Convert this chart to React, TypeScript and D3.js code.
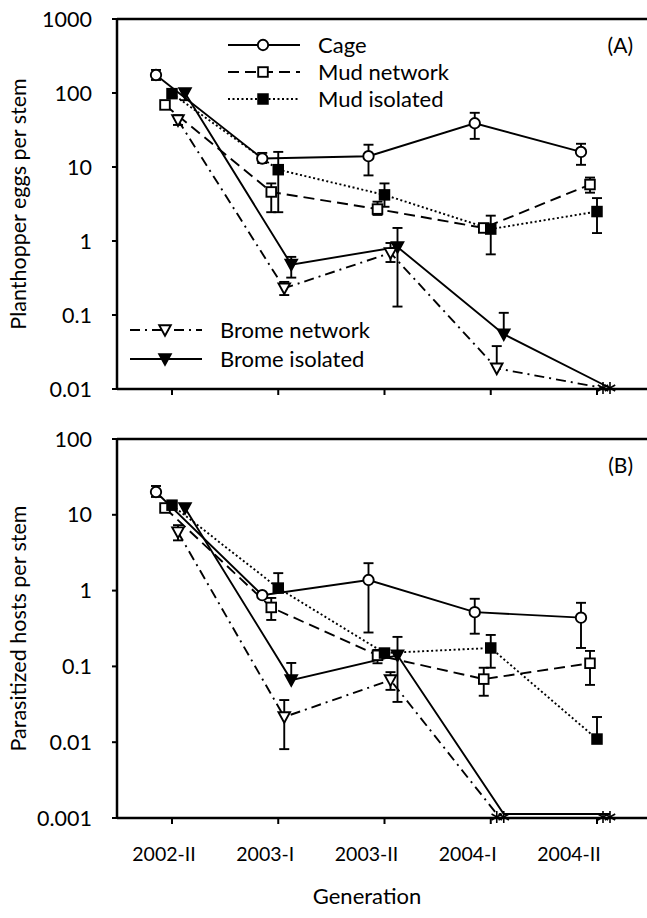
import React from "react";
import * as d3 from "d3";

const generations = ["2002-II", "2003-I", "2003-II", "2004-I", "2004-II"];

// Panel A: planthopper eggs per stem (0 = none found, drawn as asterisk)
const cageEggs = [175, 13, 14, 39, 16];
const cageEggsLo = [150, 11.3, 7.7, 24, 10.7];
const cageEggsHi = [205, 15.5, 20, 54, 20.6];
const mudNetEggs = [69, 4.6, 2.7, 1.5, 5.8];
const mudNetEggsLo = [null, 2.45, 2.25, null, 4.5];
const mudNetEggsHi = [null, 6.0, 3.4, null, 7.2];
const mudIsoEggs = [98, 9.2, 4.2, 1.45, 2.5];
const mudIsoEggsLo = [null, 2.45, 2.9, 0.66, 1.28];
const mudIsoEggsHi = [null, 16, 6.0, 2.2, 3.8];
const bromeNetEggs = [43, 0.23, 0.69, 0.019, 0];
const bromeNetEggsLo = [37, 0.186, 0.52, null, null];
const bromeNetEggsHi = [50, 0.28, 0.94, 0.038, null];
const bromeIsoEggs = [100, 0.48, 0.83, 0.055, 0];
const bromeIsoEggsLo = [80, 0.32, 0.13, null, null];
const bromeIsoEggsHi = [110, 0.61, 1.5, 0.107, null];

// Panel B: parasitized hosts per stem
const cageHosts = [20, 0.87, 1.38, 0.52, 0.44];
const cageHostsLo = [17.2, null, 0.28, 0.27, 0.175];
const cageHostsHi = [24, null, 2.3, 0.78, 0.69];
const mudNetHosts = [12.3, 0.6, 0.14, 0.068, 0.11];
const mudNetHostsLo = [null, 0.41, 0.11, 0.041, 0.057];
const mudNetHostsHi = [null, 0.8, 0.165, 0.096, 0.16];
const mudIsoHosts = [13.4, 1.08, 0.15, 0.175, 0.011];
const mudIsoHostsLo = [null, null, null, 0.096, null];
const mudIsoHostsHi = [null, 1.7, null, 0.26, 0.0215];
const bromeNetHosts = [5.9, 0.0215, 0.066, 0, 0];
const bromeNetHostsLo = [4.6, 0.0081, 0.049, null, null];
const bromeNetHostsHi = [7.3, 0.036, 0.084, null, null];
const bromeIsoHosts = [12.3, 0.066, 0.14, 0, 0];
const bromeIsoHostsLo = [null, null, 0.034, null, null];
const bromeIsoHostsHi = [null, 0.111, 0.245, null, null];

const seriesNames = ["Cage", "Mud network", "Mud isolated", "Brome network", "Brome isolated"];
const eggTicks = [0.01, 0.1, 1, 10, 100, 1000];
const hostTicks = [0.001, 0.01, 0.1, 1, 10, 100];

const styles: Record<string, { dash: string; marker: string; dx: number }> = {
  Cage: { dash: "none", marker: "circle", dx: -16 },
  "Mud network": { dash: "11,6", marker: "square", dx: -7 },
  "Mud isolated": { dash: "2,2.5", marker: "filledSquare", dx: 0 },
  "Brome network": { dash: "10,5,2,5", marker: "triangle", dx: 6 },
  "Brome isolated": { dash: "none", marker: "filledTriangle", dx: 13 },
};

const FONT = "Lato, 'Open Sans', sans-serif";
const left = 117;
const right = 647;

const x = d3.scalePoint<string>().domain(generations).range([172, 597]);
const xLabel = d3.scalePoint<string>().domain(generations).range([164, 569]);

function Marker({ type, cx, cy }: { type: string; cx: number; cy: number }) {
  const s = 4.8;
  if (type === "circle")
    return <circle cx={cx} cy={cy} r={5.2} fill="#fff" stroke="#000" strokeWidth={1.9} />;
  if (type === "square" || type === "filledSquare")
    return (
      <rect x={cx - s} y={cy - s} width={2 * s} height={2 * s}
        fill={type === "square" ? "#fff" : "#000"} stroke="#000" strokeWidth={1.9} />
    );
  if (type === "triangle" || type === "filledTriangle")
    return (
      <path d={`M${cx - 5.8},${cy - 4.8}L${cx + 5.8},${cy - 4.8}L${cx},${cy + 5.8}Z`}
        fill={type === "triangle" ? "#fff" : "#000"} stroke="#000" strokeWidth={1.9} />
    );
  // asterisk for zero counts
  const r = 6;
  return (
    <g stroke="#000" strokeWidth={1.6}>
      {[90, 30, -30].map((a) => {
        const rad = (a * Math.PI) / 180;
        return <line key={a} x1={cx - r * Math.cos(rad)} y1={cy - r * Math.sin(rad)}
          x2={cx + r * Math.cos(rad)} y2={cy + r * Math.sin(rad)} />;
      })}
    </g>
  );
}

type Series = { name: string; values: number[]; lo: (number | null)[]; hi: (number | null)[] };

function Panel({ top, bottom, domain, ticks, series, label, title, zeroLift }: {
  top: number; bottom: number; domain: [number, number]; ticks: number[];
  series: Series[]; label: string; title: string; zeroLift: number;
}) {
  const y = d3.scaleLog().domain(domain).range([bottom, top]);
  const yv = (v: number) => (v === 0 ? y(domain[0]) - zeroLift : y(v));
  const line = d3.line<[number, number]>().x((d) => d[0]).y((d) => d[1]);

  return (
    <g>
      {series.map((s) => {
        const st = styles[s.name];
        const pts = s.values.map((v, i) => [x(generations[i])! + st.dx, yv(v)] as [number, number]);
        return (
          <path key={s.name} d={line(pts)!} fill="none" stroke="#000" strokeWidth={1.9}
            strokeDasharray={st.dash} />
        );
      })}
      {series.map((s) => {
        const st = styles[s.name];
        return s.values.map((v, i) => {
          const cx = x(generations[i])! + st.dx;
          const out = [];
          if (s.hi[i] != null) {
            out.push(<line key={"h" + i} x1={cx} x2={cx} y1={yv(v)} y2={y(s.hi[i]!)} stroke="#000" strokeWidth={1.9} />);
            out.push(<line key={"hc" + i} x1={cx - 5} x2={cx + 5} y1={y(s.hi[i]!)} y2={y(s.hi[i]!)} stroke="#000" strokeWidth={1.9} />);
          }
          if (s.lo[i] != null) {
            out.push(<line key={"l" + i} x1={cx} x2={cx} y1={yv(v)} y2={y(s.lo[i]!)} stroke="#000" strokeWidth={1.9} />);
            out.push(<line key={"lc" + i} x1={cx - 5} x2={cx + 5} y1={y(s.lo[i]!)} y2={y(s.lo[i]!)} stroke="#000" strokeWidth={1.9} />);
          }
          return <g key={s.name + i}>{out}</g>;
        });
      })}
      {series.map((s) => {
        const st = styles[s.name];
        return s.values.map((v, i) => (
          <Marker key={s.name + "m" + i} type={v === 0 ? "asterisk" : st.marker}
            cx={x(generations[i])! + st.dx} cy={v === 0 ? y(domain[0]) - 1 : yv(v)} />
        ));
      })}
      <line x1={left} x2={left} y1={top - 1} y2={bottom + 1} stroke="#000" strokeWidth={2.5} />
      <line x1={left} x2={right} y1={top} y2={top} stroke="#000" strokeWidth={2.5} />
      <line x1={left} x2={right} y1={bottom} y2={bottom} stroke="#000" strokeWidth={2.5} />
      {ticks.map((t) => (
        <g key={t}>
          <line x1={left - 5} x2={left} y1={y(t)} y2={y(t)} stroke="#000" strokeWidth={2} />
          <text x={92} y={y(t)} dy="0.35em" textAnchor="end" fontSize={21.5} fontFamily={FONT}>
            {String(t)}
          </text>
        </g>
      ))}
      {generations.map((g) => (
        <line key={g} x1={x(g)} x2={x(g)} y1={bottom} y2={bottom + 6} stroke="#000" strokeWidth={2} />
      ))}
      <text x={633} y={top + 34} textAnchor="end" fontSize={21} fontFamily={FONT}>{label}</text>
      <text transform={`translate(26,${(top + bottom) / 2}) rotate(-90)`} textAnchor="middle"
        fontSize={21.5} fontFamily={FONT}>{title}</text>
    </g>
  );
}

function LegendRow({ name, x0, yy }: { name: string; x0: number; yy: number }) {
  const st = styles[name];
  return (
    <g>
      <line x1={x0} x2={x0 + 72} y1={yy} y2={yy} stroke="#000" strokeWidth={1.9} strokeDasharray={st.dash} />
      <Marker type={st.marker} cx={x0 + 35} cy={yy} />
      <text x={x0 + 90} y={yy} dy="0.35em" fontSize={22} fontFamily={FONT}>{name}</text>
    </g>
  );
}

export default function App() {
  const eggSeries: Series[] = [
    { name: seriesNames[0], values: cageEggs, lo: cageEggsLo, hi: cageEggsHi },
    { name: seriesNames[1], values: mudNetEggs, lo: mudNetEggsLo, hi: mudNetEggsHi },
    { name: seriesNames[2], values: mudIsoEggs, lo: mudIsoEggsLo, hi: mudIsoEggsHi },
    { name: seriesNames[3], values: bromeNetEggs, lo: bromeNetEggsLo, hi: bromeNetEggsHi },
    { name: seriesNames[4], values: bromeIsoEggs, lo: bromeIsoEggsLo, hi: bromeIsoEggsHi },
  ];
  const hostSeries: Series[] = [
    { name: seriesNames[0], values: cageHosts, lo: cageHostsLo, hi: cageHostsHi },
    { name: seriesNames[1], values: mudNetHosts, lo: mudNetHostsLo, hi: mudNetHostsHi },
    { name: seriesNames[2], values: mudIsoHosts, lo: mudIsoHostsLo, hi: mudIsoHostsHi },
    { name: seriesNames[3], values: bromeNetHosts, lo: bromeNetHostsLo, hi: bromeNetHostsHi },
    { name: seriesNames[4], values: bromeIsoHosts, lo: bromeIsoHostsLo, hi: bromeIsoHostsHi },
  ];

  return (
    <div style={{ position: "absolute", left: 0, top: 0 }}>
      <svg width={647} height={918} style={{ display: "block", background: "#fff" }}>
        <Panel top={19} bottom={389} domain={[0.01, 1000]} ticks={eggTicks} series={eggSeries}
          label="(A)" title="Planthopper eggs per stem" zeroLift={1} />
        <Panel top={439} bottom={818} domain={[0.001, 100]} ticks={hostTicks} series={hostSeries}
          label="(B)" title="Parasitized hosts per stem" zeroLift={4} />
        <LegendRow name={seriesNames[0]} x0={228} yy={45} />
        <LegendRow name={seriesNames[1]} x0={228} yy={72} />
        <LegendRow name={seriesNames[2]} x0={228} yy={99} />
        <LegendRow name={seriesNames[3]} x0={130} yy={330} />
        <LegendRow name={seriesNames[4]} x0={130} yy={359} />
        {generations.map((g) => (
          <text key={g} x={xLabel(g)} y={861} textAnchor="middle" fontSize={19.5} fontFamily={FONT}>{g}</text>
        ))}
        <text x={367} y={904} textAnchor="middle" fontSize={22} fontFamily={FONT}>Generation</text>
      </svg>
    </div>
  );
}
